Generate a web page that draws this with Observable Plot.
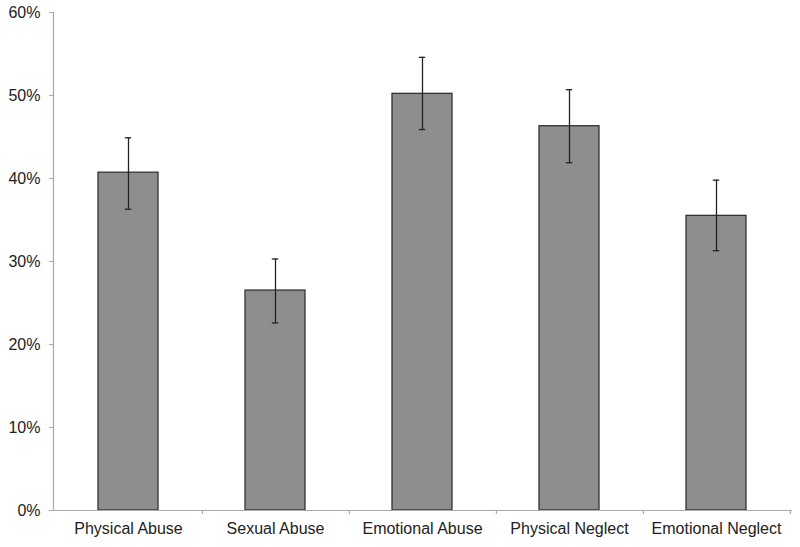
<!DOCTYPE html>
<html>
<head>
<meta charset="utf-8">
<script src="https://cdn.jsdelivr.net/npm/d3@7"></script>
<script src="https://cdn.jsdelivr.net/npm/@observablehq/plot@0.6"></script>
<style>
  html, body { margin: 0; padding: 0; background: #fff; }
  #chart svg { display: block; font-family: "Liberation Sans", Arial, Helvetica, sans-serif; }
</style>
</head>
<body>
<div id="chart"></div>
<script>
const categories = ["Physical Abuse", "Sexual Abuse", "Emotional Abuse", "Physical Neglect", "Emotional Neglect"];
const values = [40.7, 26.5, 50.2, 46.3, 35.5];
const lows   = [36.3, 22.6, 45.9, 41.9, 31.3];
const highs  = [44.9, 30.3, 54.6, 50.7, 39.8];
const yTicks = [0, 10, 20, 30, 40, 50, 60];

const data = categories.map((c, i) => ({category: c, value: values[i], low: lows[i], high: highs[i]}));

const width = 800, height = 547;
const marginLeft = 53, marginRight = 8;
const step = (width - marginLeft - marginRight) / categories.length;

const chart = Plot.plot({
  width, height,
  marginLeft, marginRight, marginTop: 12, marginBottom: 37,
  style: {fontFamily: '"Liberation Sans", Arial, Helvetica, sans-serif', fontSize: "16px", color: "#222", background: "#fff"},
  x: {domain: categories, paddingInner: 0.59, paddingOuter: 0.295, label: null},
  y: {domain: [0, 60], label: null},
  marks: [
    Plot.frame({anchor: "left", stroke: "#aaa", strokeWidth: 1.2}),
    Plot.barY(data, {x: "category", y: "value", fill: "#8e8e8e", stroke: "#333", strokeWidth: 1.3}),
    Plot.ruleX(data, {x: "category", y1: "low", y2: "high", stroke: "#222", strokeWidth: 1.3}),
    Plot.tickY(data, {x: "category", y: "low", stroke: "#222", strokeWidth: 1.3, insetLeft: 26.8, insetRight: 26.8}),
    Plot.tickY(data, {x: "category", y: "high", stroke: "#222", strokeWidth: 1.3, insetLeft: 26.8, insetRight: 26.8}),
    Plot.ruleY([0], {stroke: "#aaa", strokeWidth: 1.2}),
    Plot.ruleX(categories, {x: d => d, y1: 0, y2: 0, insetBottom: -4, dx: step / 2, stroke: "#aaa", strokeWidth: 1.2}),
    Plot.axisY({ticks: yTicks, tickFormat: d => d + "%", tickSize: 4, tickPadding: 9, stroke: "#aaa", fill: "#222", fontSize: 16, label: null}),
    Plot.axisX({tickSize: 0, tickPadding: 12, fill: "#222", fontSize: 16, label: null})
  ]
});

document.getElementById("chart").appendChild(chart);
</script>
</body>
</html>
